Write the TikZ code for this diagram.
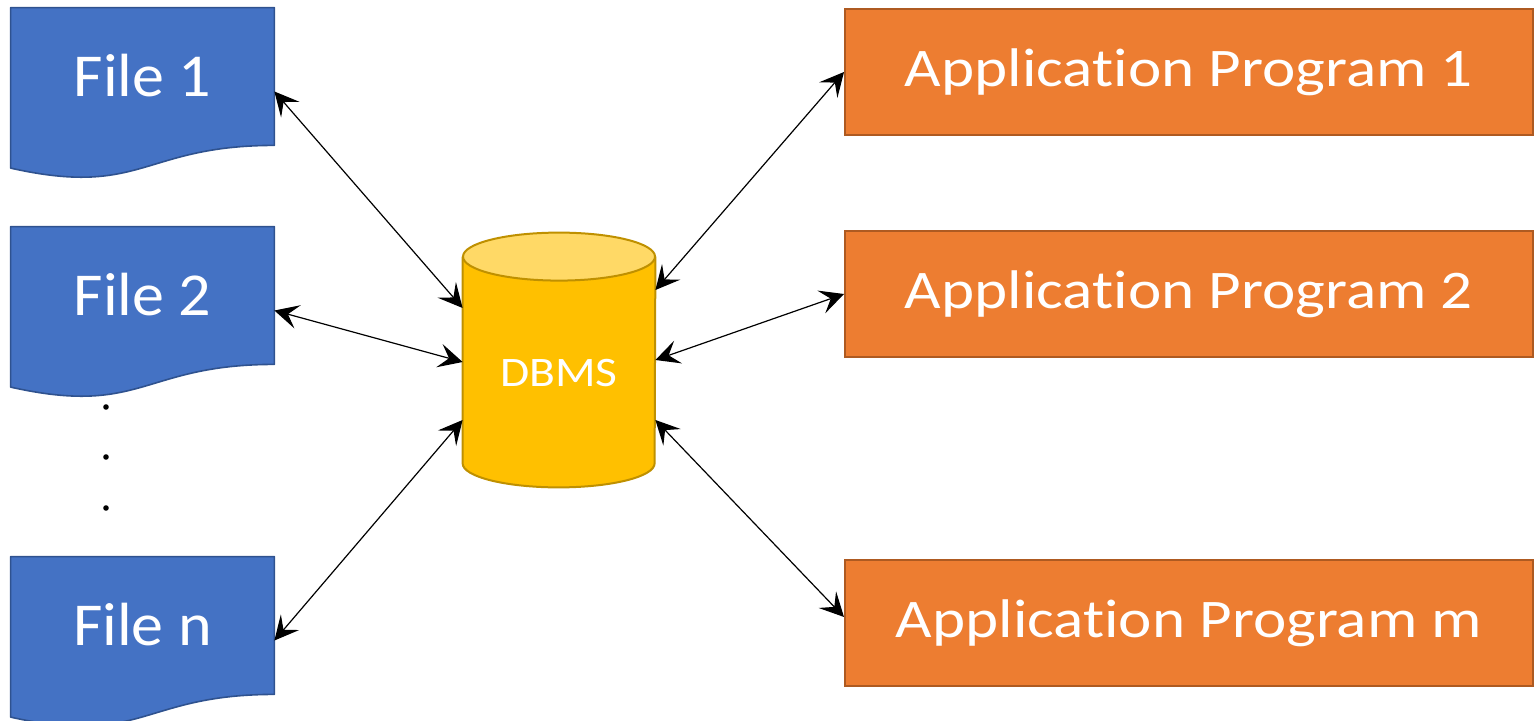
\documentclass[tikz,border=0pt]{standalone}
\usepackage{fontspec}
\setmainfont{Carlito}[Ligatures=NoCommon]
\usetikzlibrary{arrows.meta}
\pgfdeclarelayer{background}
\pgfsetlayers{background,main}

\definecolor{fileblue}{HTML}{4472C4}
\definecolor{fileedge}{HTML}{2F528F}
\definecolor{apporange}{HTML}{ED7D31}
\definecolor{appedge}{HTML}{AE5A21}
\definecolor{dbgold}{HTML}{FFC000}
\definecolor{dbtop}{HTML}{FFD966}
\definecolor{dbedge}{HTML}{BF9000}

% widened lettering used inside the boxes
\newcommand{\wide}[2]{\scalebox{#1}[1]{#2}}

% document (wavy bottom) outline around the text area of a file node
\newcommand{\docshape}[1]{%
  \path[docpaint] (#1.north west) -- (#1.north east) -- (#1.south east)
    .. controls (#1.south) and ([yshift=-26.2pt]#1.south)
    .. ([yshift=-11.35pt]#1.south west) -- cycle;}

\begin{document}
\begin{tikzpicture}[x=0.5pt,y=-0.5pt,
  filebox/.style={minimum width=131.5pt, minimum height=68.5pt, inner sep=0pt,
    text=white, font=\fontsize{30.5}{36}\selectfont,
    text height=22pt, text depth=1.8pt},
  docpaint/.style={fill=fileblue, draw=fileedge, line width=0.8pt, line join=round},
  appbox/.style={rectangle, minimum width=344pt, minimum height=63pt, inner sep=0pt,
    fill=apporange, draw=appedge, line width=1pt,
    text=white, font=\fontsize{27.2}{32}\selectfont,
    text height=20pt, text depth=5.3pt},
  dbbox/.style={minimum width=96pt, minimum height=91pt, inner sep=0pt,
    text=white, font=\fontsize{21}{25}\selectfont,
    text height=16pt, text depth=1.3pt},
  dotmark/.style={circle, fill=black, inner sep=0pt, minimum size=2.8pt},
  link/.style={line width=0.6pt,
    {Stealth[length=12pt,width=12pt,inset=5pt]}-{Stealth[length=12pt,width=12pt,inset=5pt]}}]

\useasboundingbox (0,0) rectangle (1534,721);

% files
\node[filebox] (f1) at (142.5,76.5) {\wide{1.05}{File 1}};
\node[filebox] (f2) at (142.5,295.5) {\wide{1.05}{File 2}};
\node[filebox] (fn) at (142.5,625.5) {\wide{1.05}{File n}};

\begin{pgfonlayer}{background}
  \docshape{f1}
  \docshape{f2}
  \docshape{fn}
\end{pgfonlayer}

% ellipsis between the files
\node[dotmark] (d1) at (106,407) {};
\node[dotmark] (d2) at (106,457) {};
\node[dotmark] (d3) at (106,508) {};

% database cylinder
\node[dbbox] (db) at (559,372) {\wide{1.13}{DBMS}};
\begin{pgfonlayer}{background}
  \fill[dbgold] ([yshift=12pt]db.north west) -- (db.south west)
    arc[start angle=180, end angle=360, x radius=48pt, y radius=12pt]
    -- ([yshift=12pt]db.north east) -- cycle;
  \draw[dbedge, line width=1pt, line join=round]
    ([yshift=12pt]db.north west) -- (db.south west)
    arc[start angle=180, end angle=360, x radius=48pt, y radius=12pt]
    -- ([yshift=12pt]db.north east);
  \draw[dbedge, fill=dbtop, line width=1pt] ([yshift=12pt]db.north)
    ellipse[x radius=48pt, y radius=12pt];
\end{pgfonlayer}

% application programs
\node[appbox] (a1) at (1189,72) {\wide{1.16}{Application Program 1}};
\node[appbox] (a2) at (1189,294) {\wide{1.16}{Application Program 2}};
\node[appbox] (am) at (1189,623) {\wide{1.16}{Application Program m}};

% connections
\draw[link] ([yshift=-7.5pt]f1.east) -- ([yshift=32pt]db.west);
\draw[link] ([yshift=-7.5pt]f2.east) -- ([yshift=5pt]db.west);
\draw[link] ([yshift=-7.5pt]fn.east) -- ([yshift=-24pt]db.west);
\draw[link] ([yshift=41pt]db.east) -- (a1.west);
\draw[link] ([yshift=6pt]db.east) -- (a2.west);
\draw[link] ([yshift=-24pt]db.east) -- ([yshift=3pt]am.west);
\end{tikzpicture}
\end{document}
